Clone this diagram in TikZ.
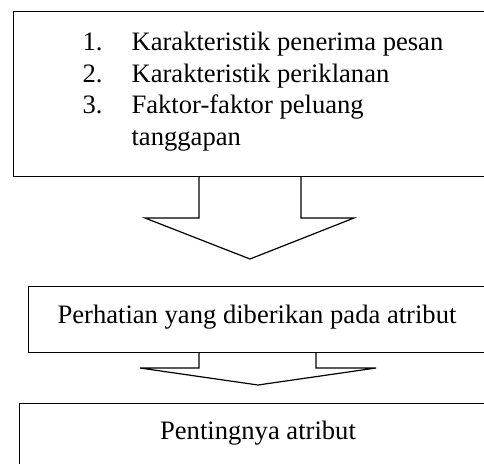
\documentclass[tikz,border=0pt]{standalone}
\usepackage{fontspec}
\setmainfont{Liberation Serif}
\usetikzlibrary{calc}
\begin{document}
\begin{tikzpicture}[x=0.5pt, y=-0.5pt, line width=0.6pt,
	kotak/.style={draw, rectangle, anchor=north west, inner sep=0pt},
	teks/.style={inner sep=0pt, font=\fontsize{13.3}{16}\selectfont}]

\useasboundingbox (0,0) rectangle (484,463);
\clip (0,0) rectangle (484,463);

% Kotak-kotak
\node[kotak, minimum width=241pt, minimum height=82.5pt] (faktor) at (13,11) {};
\node[kotak, minimum width=233.5pt, minimum height=33pt] (perhatian) at (28,286) {};
\node[kotak, minimum width=238pt, minimum height=33.5pt] (penting) at (19,403) {};

% Daftar faktor
\foreach \y/\no in {50/1., 82/2., 113/3.}
	\node[teks, anchor=base west] at (82,\y) {\no};
\node[teks, anchor=base west] (isi1) at (131,50) {Karakteristik penerima pesan};
\node[teks, anchor=base west] (isi2) at (131,82) {Karakteristik periklanan};
\node[teks, anchor=base west] (isi3) at (131,113) {Faktor-faktor peluang};
\node[teks, anchor=base west] (isi4) at (131,145) {tanggapan};

\node[teks, anchor=base] (teks2) at (257,323) {Perhatian yang diberikan pada atribut};
\node[teks, anchor=base] (teks3) at (258,439) {Pentingnya atribut};

% Panah blok
\coordinate (ujung1) at (250,259);
\draw ($(faktor.south west)+(186,0)$) -- (199,218) -- (145,218) -- (ujung1)
	-- (354,218) -- (301,218) -- ($(faktor.south west)+(288,0)$);

\coordinate (ujung2) at (258,385);
\draw ($(perhatian.south west)+(171,0)$) -- (199,368) -- (140,368) -- (ujung2)
	-- (376,368) -- (316,368) -- ($(perhatian.south west)+(288,0)$);
\end{tikzpicture}
\end{document}
